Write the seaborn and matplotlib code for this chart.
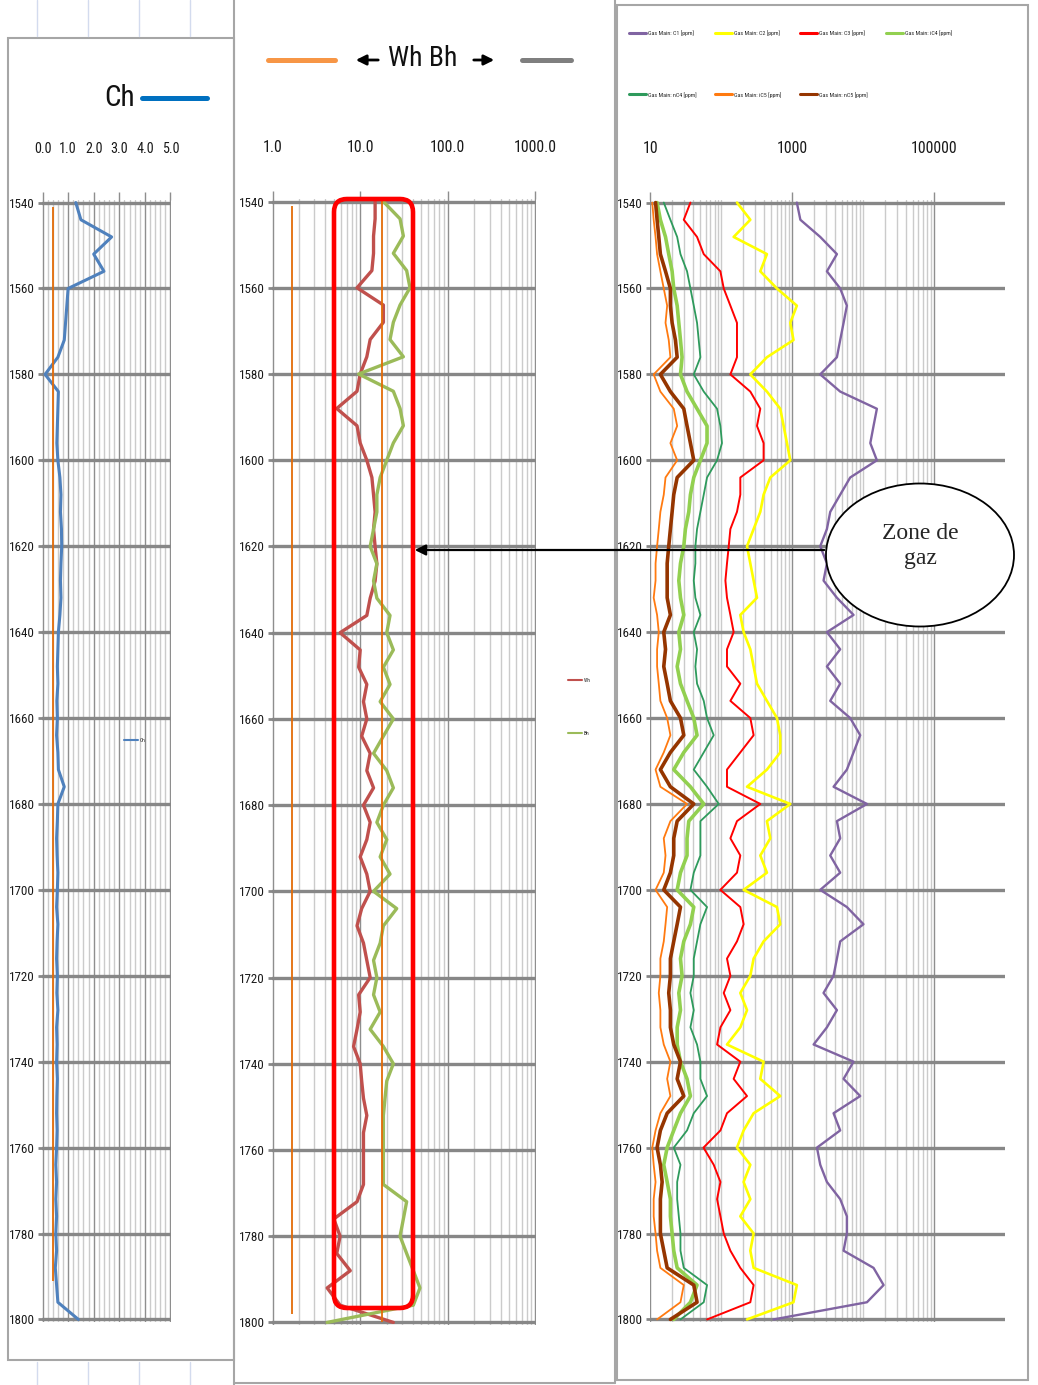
import numpy as np
import matplotlib
matplotlib.use("Agg")
import matplotlib.pyplot as plt
import seaborn as sns
from matplotlib import font_manager
from matplotlib.lines import Line2D
from matplotlib.patches import Rectangle, Ellipse, FancyBboxPatch, FancyArrowPatch
from matplotlib.ticker import FixedLocator, MultipleLocator, NullFormatter

# ---------------------------------------------------------------- data
depth = np.arange(1540, 1801, 4)          # sampling depth (m)

ch = [1.3, 1.5, 2.7, 2.0, 2.4, 1.0, 0.95, 0.9, 0.85, 0.6, 0.1, 0.62, 0.6, 0.58,
      0.56, 0.6, 0.68, 0.72, 0.7, 0.74, 0.75, 0.72, 0.7, 0.72, 0.68, 0.62, 0.6,
      0.58, 0.6, 0.56, 0.58, 0.55, 0.6, 0.62, 0.85, 0.6, 0.58, 0.55, 0.57, 0.6,
      0.58, 0.55, 0.6, 0.57, 0.55, 0.58, 0.56, 0.6, 0.55, 0.57, 0.55, 0.58, 0.56,
      0.55, 0.57, 0.55, 0.52, 0.55, 0.52, 0.55, 0.52, 0.55, 0.5, 0.55, 0.6, 1.4]

wh = [14.8, 14.8, 14.2, 14.2, 13.6, 9.2, 18.4, 18.4, 13.0, 11.9, 10.0, 9.2, 5.4,
      9.2, 10.0, 11.9, 13.6, 14.2, 14.8, 14.2, 14.8, 15.5, 14.8, 13.0, 11.9, 5.9,
      10.0, 9.6, 11.9, 10.9, 11.9, 10.4, 13.0, 11.9, 14.2, 10.9, 13.0, 11.9, 10.0,
      11.9, 13.0, 10.4, 9.2, 10.9, 11.9, 13.0, 9.6, 10.0, 9.2, 8.4, 10.0, 10.4,
      10.9, 11.9, 10.9, 10.9, 10.9, 10.9, 9.2, 5.0, 5.9, 5.4, 7.7, 4.2, 5.9, 23.9]

bh = [18.4, 28.5, 31.1, 23.9, 33.9, 37.0, 28.5, 23.9, 21.9, 31.1, 9.6, 23.9,
      28.5, 31.1, 23.9, 20.1, 16.9, 15.5, 15.5, 14.2, 13.0, 15.5, 14.2, 15.5,
      21.9, 20.1, 23.9, 18.4, 21.9, 16.9, 23.9, 18.4, 14.2, 20.1, 23.9, 18.4,
      15.5, 20.1, 16.9, 21.9, 14.2, 26.1, 18.4, 16.9, 14.2, 15.5, 14.2, 16.9,
      13.0, 18.4, 23.9, 20.1, 19.2, 18.4, 18.4, 18.4, 18.4, 18.4, 33.9, 31.1,
      28.5, 33.9, 40.4, 48.1, 40.4, 4.2]

c1 = [1160, 1300, 2480, 4260, 3080, 4740, 5890, 5290, 4740, 4260, 2480, 4740,
      15600, 14000, 12600, 15600, 6560, 4740, 3430, 3080, 2480, 3080, 2760, 4260,
      7310, 3080, 4740, 3080, 4740, 3430, 6560, 9080, 7310, 5890, 3820, 11300,
      4260, 4740, 3430, 4740, 2480, 5890, 10100, 4740, 4260, 3820, 2760, 4260,
      3080, 2000, 7310, 5290, 9080, 3820, 4740, 2230, 2480, 3080, 4740, 5890,
      5890, 5290, 14000, 19400, 11300, 546]

c2 = [166, 256, 149, 439, 354, 608, 1160, 937, 1040, 439, 256, 439, 677, 755,
      841, 937, 490, 394, 354, 285, 230, 256, 285, 318, 185, 206, 256, 285, 318,
      439, 608, 677, 677, 439, 230, 937, 439, 490, 354, 439, 206, 608, 677, 394,
      285, 256, 185, 230, 185, 120, 394, 354, 677, 285, 206, 166, 256, 206, 256,
      185, 285, 256, 285, 1160, 1040, 230]

c3 = [36.6, 29.5, 45.4, 56.4, 96.8, 108, 134, 166, 166, 166, 134, 256, 354, 318,
      394, 394, 185, 185, 166, 134, 127, 120, 114, 120, 134, 149, 120, 120, 185,
      134, 256, 285, 185, 120, 120, 354, 166, 134, 185, 166, 96.8, 185, 206, 166,
      120, 134, 108, 134, 97, 87, 185, 149, 230, 120, 97, 56, 78, 97, 87, 97, 108,
      134, 185, 285, 256, 63]

ic4 = [12.4, 13.8, 16.3, 18.1, 20.2, 21.3, 23.8, 25.1, 26.5, 27.9, 26.5, 32.8,
       45.4, 62.8, 62.8, 50.6, 40.8, 36.6, 34.7, 31.1, 29.5, 26.5, 25.1, 26.5,
       29.5, 25.1, 26.5, 23.8, 26.5, 32.8, 40.8, 45.4, 29.5, 21.3, 36.6, 56.4,
       34.7, 32.8, 32.8, 26.5, 23.8, 40.8, 36.6, 29.5, 26.5, 27.9, 25.1, 26.5,
       23.8, 23.8, 26.5, 32.8, 36.6, 26.5, 21.3, 17.2, 15.4, 17.2, 19.1, 19.1,
       20.2, 21.3, 23.8, 45.4, 36.6, 21.3]

nc4 = [15.4, 19.1, 23.8, 26.5, 32.8, 36.6, 40.8, 45.4, 47.9, 50.6, 40.8, 56.4,
       86.9, 96.8, 102, 86.9, 62.8, 56.4, 50.6, 45.4, 43.0, 43.0, 40.8, 43.0,
       50.6, 40.8, 45.4, 43.0, 45.4, 56.4, 62.8, 78.0, 56.4, 40.8, 62.8, 91.7,
       50.6, 50.6, 50.6, 40.8, 36.6, 62.8, 50.6, 45.4, 40.8, 40.8, 36.6, 40.8,
       36.6, 45.4, 50.6, 50.6, 62.8, 40.8, 32.8, 21.3, 26.5, 23.8, 23.8, 25.1,
       26.5, 26.5, 29.5, 62.8, 56.4, 26.5]

ic5 = [10.6, 11.1, 11.8, 12.4, 13.8, 15.4, 17.2, 16.3, 18.1, 19.1, 11.1, 13.8,
       21.3, 23.8, 19.1, 23.8, 16.3, 15.4, 13.8, 13.1, 12.4, 11.8, 11.8, 11.1,
       12.4, 13.1, 12.4, 12.4, 13.1, 13.8, 17.2, 19.1, 15.4, 11.8, 13.8, 32.8,
       19.1, 15.4, 16.3, 15.4, 11.8, 17.2, 16.3, 15.4, 13.8, 13.8, 13.1, 13.8,
       13.8, 15.4, 19.1, 17.2, 19.1, 13.8, 11.8, 10.6, 11.1, 11.8, 11.1, 11.1,
       11.8, 12.4, 13.8, 29.5, 26.5, 12.4]

nc5 = [11.8, 12.4, 13.1, 13.8, 16.3, 19.1, 19.1, 20.2, 22.5, 23.8, 13.8, 19.1,
       29.5, 32.8, 36.6, 40.8, 23.8, 21.3, 20.2, 19.1, 18.1, 17.2, 17.2, 17.2,
       19.1, 15.4, 16.3, 15.4, 17.2, 19.1, 26.5, 29.5, 19.1, 13.8, 19.1, 40.8,
       23.8, 21.3, 21.3, 19.1, 15.4, 26.5, 23.8, 21.3, 19.1, 19.1, 18.1, 19.1,
       19.1, 21.3, 26.5, 23.8, 29.5, 17.2, 13.8, 12.4, 13.8, 14.6, 13.8, 13.8,
       13.8, 15.4, 17.2, 40.8, 45.4, 19.1]

ch_cutoff = 0.4                 # vertical reference line, Ch track
wh_cutoffs = [1.67, 17.6]       # vertical reference lines, Wh/Bh track

ch_ticks = [0, 1, 2, 3, 4, 5]
ch_labels = ["0.0", "1.0", "2.0", "3.0", "4.0", "5.0"]
wb_ticks = [1, 10, 100, 1000]
wb_labels = ["1.0", "10.0", "100.0", "1000.0"]
gas_ticks = [10, 1000, 100000]
gas_labels = ["10", "1000", "100000"]

gas_series = [
    ("Gas Main: C1 [ppm]", c1, "#8064a2", 1.7),
    ("Gas Main: C2 [ppm]", c2, "#ffff00", 1.9),
    ("Gas Main: C3 [ppm]", c3, "#ff0000", 1.4),
    ("Gas Main: iC4 [ppm]", ic4, "#92d050", 2.6),
    ("Gas Main: nC4 [ppm]", nc4, "#2e9a5c", 1.3),
    ("Gas Main: iC5 [ppm]", ic5, "#ff7a10", 1.3),
    ("Gas Main: nC5 [ppm]", nc5, "#953500", 2.6),
]

# ---------------------------------------------------------------- fonts
sns.set_theme(style="white")
entries = font_manager.fontManager.ttflist
names_installed = {f.name for f in entries}


def is_condensed(f):
    s = f.stretch
    if isinstance(s, str):
        return "condensed" in s
    return s < 500


narrow_family, narrow = None, False
for fam in ["Liberation Sans Narrow", "Arial Narrow", "Roboto Condensed",
            "Open Sans Condensed", "DejaVu Sans Condensed"]:
    if fam in names_installed:
        narrow_family, narrow = fam, True
        break
if narrow_family is None:
    for fam in ["Roboto", "Open Sans", "Noto Sans", "DejaVu Sans"]:
        if any(f.name == fam and is_condensed(f) for f in entries):
            narrow_family, narrow = fam, True
            plt.rcParams["font.stretch"] = "condensed"
            break
if narrow_family is None:
    narrow_family = "Liberation Sans" if "Liberation Sans" in names_installed else "DejaVu Sans"

plt.rcParams["font.family"] = [narrow_family, "DejaVu Sans"]
SCALE = 1.2 if narrow else 1.0

W, H = 1038, 1385
fig = plt.figure(figsize=(W / 100, H / 100), dpi=100)
fig.patch.set_facecolor("white")
INCH = fig.dpi_scale_trans


def P(x, y):
    return (x / 100, (H - y) / 100)


def add_axes_px(left, top, right, bottom):
    return fig.add_axes([left / W, 1 - bottom / H, (right - left) / W, (bottom - top) / H])


def style_track(ax, major, minor, labels, xsize):
    ax.set_ylim(1800.6, 1539.4)
    for s in ax.spines.values():
        s.set_visible(False)
    ax.xaxis.tick_top()
    ax.xaxis.set_major_locator(FixedLocator(major))
    ax.xaxis.set_minor_locator(FixedLocator(minor))
    ax.xaxis.set_minor_formatter(NullFormatter())
    ax.set_xticks(major)
    ax.set_xticklabels(labels)
    ax.yaxis.set_major_locator(MultipleLocator(20))
    ax.grid(which="major", axis="x", color="#8e8e8e", lw=1.0)
    ax.grid(which="minor", axis="x", color="#cbcbcb", lw=1.0)
    ax.grid(which="major", axis="y", color="#878787", lw=2.4)
    ax.tick_params(axis="x", which="major", top=True, bottom=False, length=6,
                   width=1, color="#8e8e8e", pad=26, labelsize=xsize * SCALE,
                   labelcolor="#1a1a1a")
    ax.tick_params(axis="x", which="minor", length=0)
    ax.tick_params(axis="y", which="major", left=True, length=3, width=2,
                   color="#878787", pad=2.0, labelsize=7.8 * SCALE, labelcolor="#1a1a1a")
    ax.set_xlabel("")
    ax.set_ylabel("")
    ax.set_facecolor("none")


# ---------------------------------------------------------------- Ch track
ax1 = add_axes_px(42, 200, 171, 1322)
ax1.set_xlim(-0.02, 5.02)
sns.lineplot(x=ch, y=depth, orient="y", estimator=None, ax=ax1,
             color="#4f81bd", lw=2.2, legend=False)
ax1.vlines(ch_cutoff, 1541, 1791, color="#e36c09", lw=1.3, zorder=3)
style_track(ax1, ch_ticks, [v / 5 for v in range(26) if v % 5], ch_labels, 8.5)
ax1.legend(handles=[Line2D([], [], color="#4f81bd", lw=1.5)], labels=["Ch"],
           loc="center left", bbox_to_anchor=P(124, 740), bbox_transform=INCH,
           fontsize=4, frameon=False, handlelength=2.6, handletextpad=0.3,
           borderpad=0, borderaxespad=0)

# ---------------------------------------------------------------- Wh / Bh track
ax2 = add_axes_px(272, 199, 536, 1325)
ax2.set_xscale("log")
ax2.set_xlim(0.985, 1015)
sns.lineplot(x=wh, y=depth, orient="y", estimator=None, ax=ax2,
             color="#c0504d", lw=2.4, legend=False)
sns.lineplot(x=bh, y=depth, orient="y", estimator=None, ax=ax2,
             color="#9bbb59", lw=2.4, legend=False)
ax2.vlines(wh_cutoffs[0], 1541, 1798, color="#e36c09", lw=1.3, zorder=3)
ax2.vlines(wh_cutoffs[1], 1538.5, 1800, color="#e36c09", lw=1.3, zorder=3)
wb_minor = [k * 10 ** e for e in range(0, 3) for k in range(2, 10)]
style_track(ax2, wb_ticks, wb_minor, wb_labels, 9.5)
ax2.legend(handles=[Line2D([], [], color="#c0504d", lw=1.5),
                    Line2D([], [], color="#9bbb59", lw=1.5)],
           labels=["Wh", "Bh"], loc="upper left", bbox_to_anchor=P(568, 678),
           bbox_transform=INCH, fontsize=4, frameon=False, handlelength=2.6,
           handletextpad=0.3, labelspacing=8.6, borderpad=0, borderaxespad=0)

# ---------------------------------------------------------------- gas track
ax3 = add_axes_px(650, 200, 1005, 1322)
ax3.set_xscale("log")
ax3.set_xlim(9.85, 1e6)
gas_handles = {}
for name, values, colour, width in gas_series:
    sns.lineplot(x=values, y=depth, orient="y", estimator=None, ax=ax3,
                 color=colour, lw=width, legend=False)
    gas_handles[name] = Line2D([], [], color=colour, lw=2.2)
gas_minor = [k * 10 ** e for e in range(1, 5) for k in range(1, 10)
             if k * 10 ** e not in gas_ticks]
style_track(ax3, gas_ticks, gas_minor, gas_labels, 9.5)

order = [0, 4, 1, 5, 2, 6, 3]   # rows: C1 C2 C3 iC4 / nC4 iC5 nC5
legend_names = [gas_series[i][0] for i in order]
ax3.legend(handles=[gas_handles[n] for n in legend_names], labels=legend_names,
           ncol=4, loc="upper left", bbox_to_anchor=P(629, 30), bbox_transform=INCH,
           fontsize=4.3, frameon=False, handlelength=2.9, handletextpad=0.35,
           columnspacing=1.6 if not narrow else 3.0, labelspacing=9.4,
           borderpad=0, borderaxespad=0)

# ---------------------------------------------------------------- panel frames
frame_col = "#a6a6a6"
fig.add_artist(Rectangle(P(8, 1360), 2.26, (1360 - 38) / 100, fill=False,
                         ec=frame_col, lw=1.5, transform=INCH))
for x0, x1, y0, y1 in [(234, 234, 0, 1385), (615, 615, 0, 1383), (234, 615, 1383, 1383)]:
    fig.add_artist(Line2D([x0 / 100, x1 / 100], [(H - y0) / 100, (H - y1) / 100],
                          color=frame_col, lw=1.5, transform=INCH))
fig.add_artist(Rectangle(P(617, 1380), 4.11, (1380 - 5) / 100, fill=False,
                         ec=frame_col, lw=1.5, transform=INCH))
for x in (37, 88, 139, 190):
    fig.add_artist(Line2D([x / 100] * 2, [(H - 0) / 100, (H - 36) / 100],
                          color="#d3dbee", lw=1.0, transform=INCH))
    fig.add_artist(Line2D([x / 100] * 2, [(H - 1362) / 100, 0],
                          color="#d3dbee", lw=1.0, transform=INCH))

# ---------------------------------------------------------------- headers
fig.text(*P(135, 98), "Ch", fontsize=21, ha="right", va="center",
         color="#111111", transform=INCH)
fig.add_artist(Line2D([1.42, 2.07], [(H - 98) / 100] * 2, color="#0070c0",
                      lw=3.6, transform=INCH))

fig.text(*P(423, 58), "Wh Bh", fontsize=17 if not narrow else 20, ha="center",
         va="center", color="#111111", transform=INCH)
fig.add_artist(Line2D([2.68, 3.35], [(H - 60) / 100] * 2, color="#f79646",
                      lw=3.6, transform=INCH))
fig.add_artist(Line2D([5.22, 5.71], [(H - 60) / 100] * 2, color="#7f7f7f",
                      lw=3.6, transform=INCH))
for a, b in [((381, 60), (353, 60)), ((471, 60), (497, 60))]:
    fig.add_artist(FancyArrowPatch(P(*a), P(*b), arrowstyle="-|>", mutation_scale=15,
                                   lw=2.0, color="black", transform=INCH))

# ---------------------------------------------------------------- gas zone annotation
fig.add_artist(FancyBboxPatch(P(334, 1308), 0.79, 11.09,
                              boxstyle="round,pad=0,rounding_size=0.13",
                              fc="none", ec="#ff0000", lw=3.3, transform=INCH, zorder=5))
fig.add_artist(FancyArrowPatch(P(827, 550), P(412, 550), arrowstyle="-|>",
                               mutation_scale=16, lw=1.6, color="black",
                               transform=INCH, zorder=6))
fig.add_artist(Ellipse(P(920, 555), 1.88, 1.43, fc="white", ec="black", lw=1.3,
                       transform=INCH, zorder=6))
fig.text(*P(920, 546), "Zone de\ngaz", fontsize=17, ha="center", va="center",
         family=["Liberation Serif", "DejaVu Serif"], linespacing=1.3,
         transform=INCH, zorder=7)

fig.savefig("out.png", dpi=100)
